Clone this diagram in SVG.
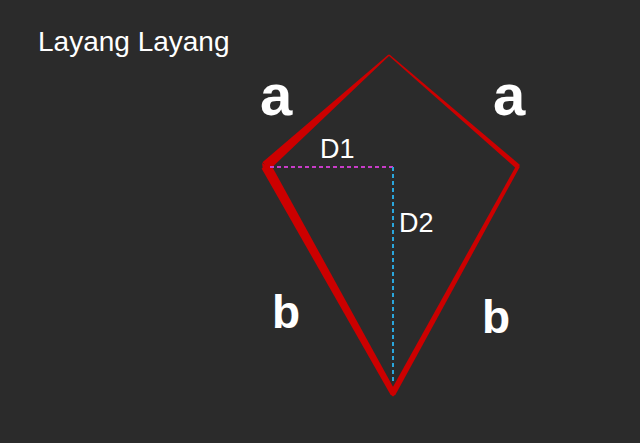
<svg xmlns="http://www.w3.org/2000/svg" width="640" height="443" viewBox="0 0 640 443">
<style>
.edge{fill:#cc0000}
.lbl{fill:#ffffff;font-family:"Liberation Sans",Arial,sans-serif}
.big{font-weight:bold}
</style>
<rect width="640" height="443" fill="#2b2b2b"/>
<text class="lbl" x="38" y="51" font-size="28">Layang Layang</text>
<g id="kite">
<polygon class="edge" points="388.5,54.4 389.5,55.6 269.5,169.8 262.5,162.2"/>
<polygon class="edge" points="261.6,168.4 270.4,163.6 395.6,391.5 393,396.5 390.4,394.5"/>
<polygon class="edge" points="388.5,55.6 389.5,54.4 520,165 516.5,168.7"/>
<polygon class="edge" points="520,166.5 516,165.9 390.4,391.5 393,396.5 395.6,394.5"/>
<polygon class="edge" points="262,163 268,166 263,170"/>
</g>
<g id="connectors">
<line x1="270" y1="167" x2="393" y2="167" stroke="#c83cc8" stroke-width="2" stroke-dasharray="4,3"/>
<line x1="393" y1="167" x2="393" y2="382" stroke="#2aa6dc" stroke-width="2" stroke-dasharray="4,3"/>
</g>
<g id="labels">
<text class="lbl" x="320" y="158" font-size="27">D1</text>
<text class="lbl" x="399" y="232" font-size="27">D2</text>
<text class="lbl big" x="260" y="115" font-size="58">a</text>
<text class="lbl big" x="493" y="115" font-size="58">a</text>
<text class="lbl big" x="272" y="328" font-size="46">b</text>
<text class="lbl big" x="482" y="333" font-size="46">b</text>
</g>
</svg>
